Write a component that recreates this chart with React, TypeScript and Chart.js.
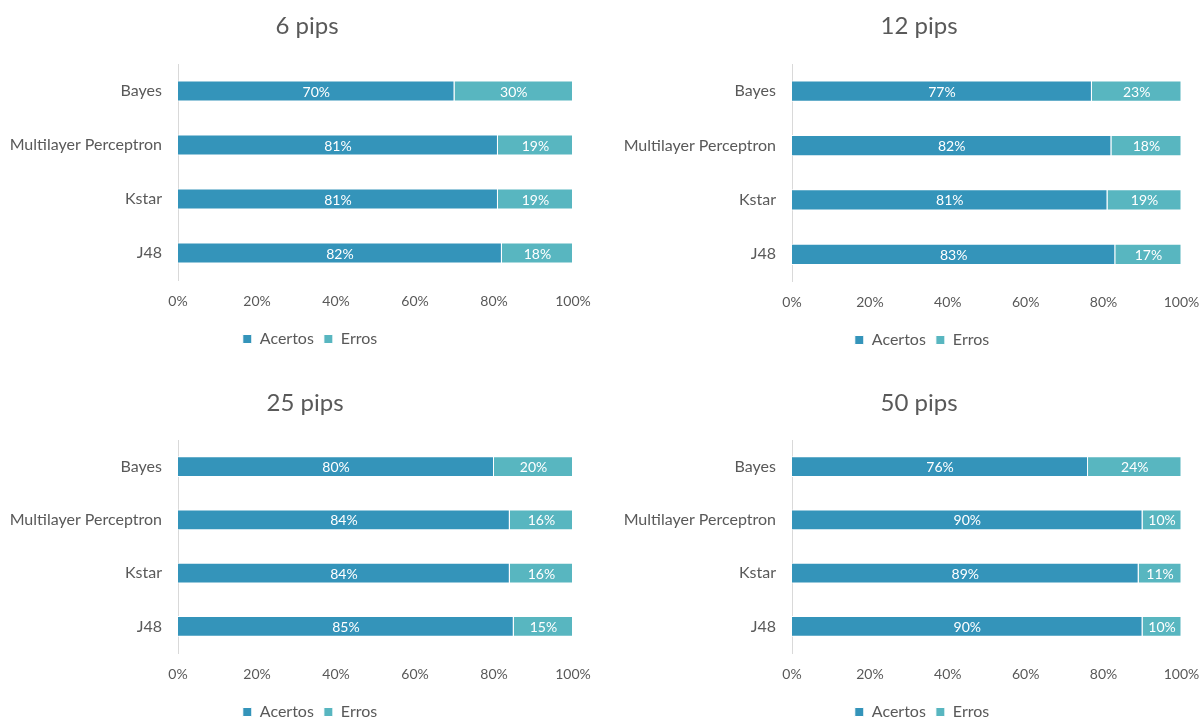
import React, { useEffect, useRef } from "react";
import { Chart, registerables } from "chart.js";

Chart.register(...registerables);

// ---------- data ----------
const categories = ["Bayes", "Multilayer Perceptron", "Kstar", "J48"];
const seriesNames = ["Acertos", "Erros"];
const chartTitles = ["6 pips", "12 pips", "25 pips", "50 pips"];

const acertos6 = [70, 81, 81, 82];
const erros6 = [30, 19, 19, 18];
const acertos12 = [77, 82, 81, 83];
const erros12 = [23, 18, 19, 17];
const acertos25 = [80, 84, 84, 85];
const erros25 = [20, 16, 16, 15];
const acertos50 = [76, 90, 89, 90];
const erros50 = [24, 10, 11, 10];

const xTickValues = [0, 20, 40, 60, 80, 100];

const seriesByChart = [
  [acertos6, erros6],
  [acertos12, erros12],
  [acertos25, erros25],
  [acertos50, erros50],
];

// ---------- styles / layout (local canvas coordinates) ----------
const COLORS = ["#3494BA", "#58B6C0"];
const TEXT = "#595959";
const FONT = "Lato, 'Open Sans', sans-serif";
const TITLE_SIZE = 24;
const LEGEND_SIZE = 16;

type Panel = {
  x: number; y: number; w: number; h: number;
  areaL: number; areaR: number; areaT: number; areaB: number;
  titleY: number; tickY: number; legendY: number; titleX: number; legendX: number;
};

const panels: Panel[] = [
  { x: 0, y: 0, w: 600, h: 360, areaL: 178, areaR: 573, areaT: 64, areaB: 280, titleY: 26, tickY: 301, legendY: 339, titleX: 307, legendX: 310 },
  { x: 600, y: 0, w: 600, h: 360, areaL: 192, areaR: 581.5, areaT: 64, areaB: 281.5, titleY: 26, tickY: 302.5, legendY: 340, titleX: 319, legendX: 322 },
  { x: 0, y: 360, w: 600, h: 370, areaL: 178, areaR: 573, areaT: 80, areaB: 293, titleY: 43, tickY: 314, legendY: 352, titleX: 305, legendX: 310 },
  { x: 600, y: 360, w: 600, h: 370, areaL: 192, areaR: 581.5, areaT: 80, areaB: 293, titleY: 43, tickY: 314, legendY: 352, titleX: 319, legendX: 322 },
];

const valueLabels = {
  id: "valueLabels",
  afterDatasetsDraw(chart: any) {
    const ctx = chart.ctx;
    ctx.save();
    ctx.font = `14px ${FONT}`;
    ctx.fillStyle = "#ffffff";
    ctx.textAlign = "center";
    ctx.textBaseline = "middle";
    chart.data.datasets.forEach((ds: any, di: number) => {
      const meta = chart.getDatasetMeta(di);
      meta.data.forEach((bar: any, i: number) => {
        const p = bar.getProps(["x", "y", "base"], true);
        ctx.fillText(`${ds.data[i]}%`, (p.x + p.base) / 2, p.y + 1);
      });
    });
    ctx.restore();
  },
};

// moves title and legend blocks horizontally so they are centred where the reference has them
const centerBlocks = {
  id: "centerBlocks",
  afterLayout(chart: any, _args: any, opts: any) {
    const t = chart.titleBlock;
    if (t) {
      const dx = opts.titleX - (t.left + t.right) / 2;
      t.left += dx;
      t.right += dx;
    }
    const l = chart.legend;
    if (l) {
      const dx = opts.legendX - (l.left + l.right) / 2;
      l.left += dx;
      l.right += dx;
    }
  },
};

function PanelChart({ idx }: { idx: number }) {
  const ref = useRef<HTMLCanvasElement>(null);
  const p = panels[idx];
  useEffect(() => {
    const padR = p.w - p.areaR;
    const padL = 2;
    const yWidth = p.areaL - padL;
    const padB = p.h - p.legendY - (10 + LEGEND_SIZE / 2);
    const legendTop = p.h - padB - (LEGEND_SIZE + 20);
    const xHeight = legendTop - p.areaB;
    const titleLH = TITLE_SIZE * 1.2;
    const titlePadTop = p.titleY - titleLH / 2;
    const titlePadBottom = p.areaT - titlePadTop - titleLH;
    const tickPad = p.tickY - p.areaB - 8.4;

    const chart = new Chart(ref.current as HTMLCanvasElement, {
      type: "bar",
      data: {
        labels: categories,
        datasets: seriesNames.map((name, si) => ({
          label: name,
          data: seriesByChart[idx][si],
          backgroundColor: COLORS[si],
          borderColor: "#ffffff",
          borderWidth: 1,
          barPercentage: 0.39,
          categoryPercentage: 1,
        })),
      },
      options: {
        indexAxis: "y",
        responsive: false,
        animation: false,
        layout: { padding: { left: padL, right: padR, top: 0, bottom: padB } },
        plugins: {
          centerBlocks: { titleX: p.titleX, legendX: p.legendX },
          title: {
            display: true,
            text: chartTitles[idx],
            color: TEXT,
            font: { family: FONT, size: TITLE_SIZE, weight: "normal" },
            padding: { top: titlePadTop, bottom: titlePadBottom },
          },
          legend: {
            display: true,
            position: "bottom",
            labels: {
              color: TEXT,
              font: { family: FONT, size: LEGEND_SIZE },
              boxWidth: 9,
              boxHeight: 9,
              padding: 10,
            },
          },
          tooltip: { enabled: false },
        },
        scales: {
          x: {
            stacked: true,
            min: 0,
            max: 100,
            afterBuildTicks: (scale: any) => {
              scale.ticks = xTickValues.map((v) => ({ value: v }));
            },
            ticks: {
              color: TEXT,
              font: { family: FONT, size: 14 },
              padding: tickPad,
              callback: (v: any) => `${v}%`,
              maxRotation: 0,
            },
            grid: { display: false, drawTicks: false },
            border: { display: false },
            afterFit: (scale: any) => {
              scale.height = xHeight;
              scale.paddingLeft = 0;
              scale.paddingRight = 0;
            },
          },
          y: {
            stacked: true,
            ticks: {
              color: TEXT,
              font: { family: FONT, size: 16 },
              padding: 16,
            },
            grid: { display: false, drawTicks: false },
            border: { display: true, color: "#d9d9d9", width: 1 },
            afterFit: (scale: any) => {
              scale.width = yWidth;
              scale.paddingTop = 0;
              scale.paddingBottom = 0;
            },
          },
        },
      },
      plugins: [valueLabels, centerBlocks],
    } as any);
    return () => chart.destroy();
  }, [idx]);
  return (
    <canvas
      ref={ref}
      width={p.w}
      height={p.h}
      style={{ position: "absolute", left: p.x, top: p.y, width: p.w, height: p.h }}
    />
  );
}

export default function App() {
  return (
    <div
      style={{
        position: "fixed",
        left: 0,
        top: 0,
        width: 1200,
        height: 720,
        overflow: "hidden",
        background: "#ffffff",
      }}
    >
      {panels.map((_, i) => (
        <PanelChart key={i} idx={i} />
      ))}
    </div>
  );
}
